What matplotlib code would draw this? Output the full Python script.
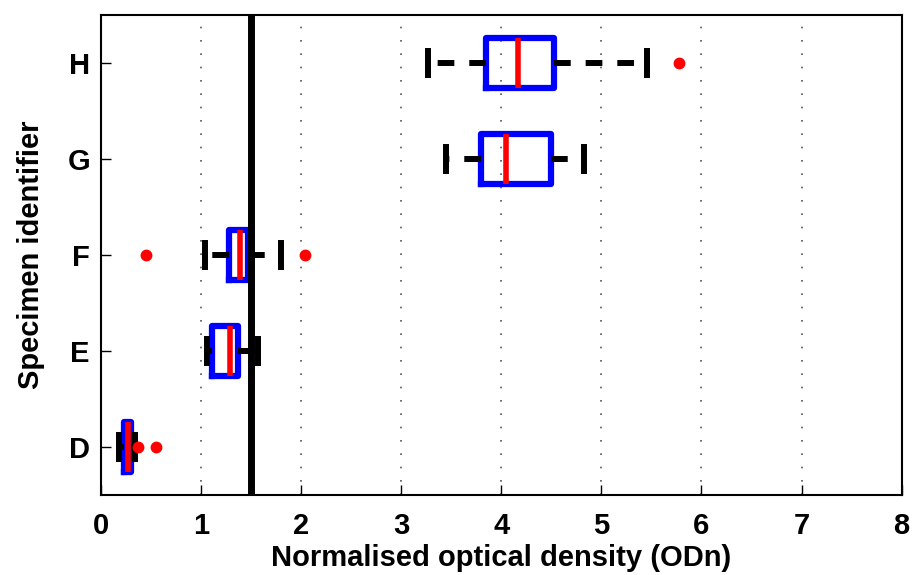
import matplotlib.pyplot as plt

plt.rcParams['font.family'] = ['Liberation Sans', 'DejaVu Sans']

# data (ODn per specimen)
specimens = ['D', 'E', 'F', 'G', 'H']
q1 = [0.23, 1.11, 1.28, 3.80, 3.85]
med = [0.27, 1.29, 1.39, 4.05, 4.17]
q3 = [0.30, 1.37, 1.47, 4.50, 4.53]
whislo = [0.18, 1.06, 1.04, 3.45, 3.27]
whishi = [0.34, 1.57, 1.80, 4.83, 5.46]
fliers = [[0.37, 0.55], [], [0.45, 2.04], [], [5.78]]
threshold = 1.5

stats = []
for i in range(len(specimens)):
    stats.append(dict(label=specimens[i], q1=q1[i], med=med[i], q3=q3[i],
                      whislo=whislo[i], whishi=whishi[i], fliers=fliers[i]))

fig = plt.figure(figsize=(9.14, 5.75), dpi=100)
ax = fig.add_axes([0.1105, 0.139, 0.876, 0.835])

# grid
for gx in range(1, 8):
    ax.axvline(gx, color='#555555', lw=1.2, linestyle=(0, (1, 7)), zorder=0)

ax.bxp(stats, positions=range(1, len(specimens) + 1), vert=False,
       widths=0.52, capwidths=0.25,
       boxprops=dict(color='blue', lw=4.5),
       medianprops=dict(color='red', lw=4),
       whiskerprops=dict(color='black', lw=4.3, linestyle=(0, (2.8, 2.5))),
       capprops=dict(color='black', lw=4.3),
       flierprops=dict(marker='o', markerfacecolor='red', markeredgecolor='red',
                       markersize=7.5))

ax.axvline(threshold, color='black', lw=5, zorder=5)

ax.set_xlim(0, 8)
ax.set_ylim(0.5, len(specimens) + 0.5)
ax.set_xticks(range(0, 9))
ax.set_yticks(range(1, len(specimens) + 1))
ax.set_yticklabels(specimens)
ax.tick_params(direction='in', length=7, width=1, labelsize=21)
ax.tick_params(axis='x', pad=12)
ax.tick_params(axis='y', pad=8)
for lab in ax.get_xticklabels() + ax.get_yticklabels():
    lab.set_fontweight('bold')
for s in ax.spines.values():
    s.set_linewidth(1.5)

ax.set_xlabel('Normalised optical density (ODn)', fontsize=21, fontweight='bold', labelpad=3)
ax.set_ylabel('Specimen identifier', fontsize=21, fontweight='bold', labelpad=16)

fig.savefig('out.png', dpi=100)
